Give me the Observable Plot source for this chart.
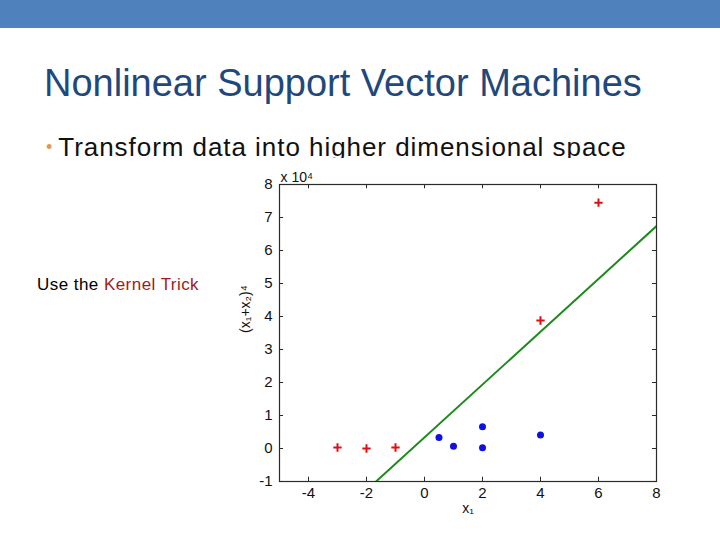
<!DOCTYPE html>
<html>
<head>
<meta charset="utf-8">
<script src="https://cdn.jsdelivr.net/npm/d3@7"></script>
<script src="https://cdn.jsdelivr.net/npm/@observablehq/plot@0.6"></script>
<style>
  html, body { margin: 0; padding: 0; background: #fff; }
  #page { position: relative; width: 720px; height: 540px; overflow: hidden; font-family: "Liberation Sans", Arial, sans-serif; }
  #bar { position: absolute; left: 0; top: 0; width: 720px; height: 28px; background: #4f81bd; }
  #title { position: absolute; left: 44px; top: 64px; font-size: 38px; line-height: 38px; color: #1f497d; white-space: nowrap; }
  #bullet { position: absolute; left: 46px; top: 134px; font-size: 26px; line-height: 26px; color: #111; white-space: nowrap; letter-spacing: 0.95px; }
  #bullet .dot { color: #e8964f; font-size: 18px; position: relative; top: -3px; margin-right: 6px; letter-spacing: 0; }
  #kernel { position: absolute; left: 37px; top: 276px; font-size: 17px; line-height: 17px; color: #000; white-space: nowrap; letter-spacing: 0.45px; }
  #kernel span { color: #a01a1a; }
  #chart { position: absolute; left: 220px; top: 158px; background: #fff; }
  #chart svg { background: #fff; display: block; }
</style>
</head>
<body>
<div id="page">
  <div id="bar"></div>
  <div id="title">Nonlinear Support Vector Machines</div>
  <div id="bullet"><span class="dot">•</span>Transform data into higher dimensional space</div>
  <div id="kernel">Use the <span>Kernel Trick</span></div>
  <div id="chart"></div>
</div>
<script>
// Data (y values in units of 10^4)
const redX = [-3, -2, -1, 4, 6];
const redY = [0.03, 0.0, 0.03, 3.88, 7.45];
const blueX = [0.5, 1, 2, 2, 4];
const blueY = [0.33, 0.07, 0.66, 0.02, 0.41];
const lineX = [-1.67, 8];
const lineY = [-1, 6.74];
const xTicks = [-4, -2, 0, 2, 4, 6, 8];
const yTicks = [-1, 0, 1, 2, 3, 4, 5, 6, 7, 8];
const xLabel = "x₁";
const yLabel = "(x₁+x₂)⁴";
const expLabel = "x 10⁴";

const red = redX.map((x, i) => ({x, y: redY[i]}));
const blue = blueX.map((x, i) => ({x, y: blueY[i]}));
const line = lineX.map((x, i) => ({x, y: lineY[i]}));

const xmin = -5, xmax = 8, ymin = -1, ymax = 8;
const tx = 0.14, ty = 0.13;
const axisColor = "#2a2a2a";
const fmt = d => String(d);

const chart = Plot.plot({
  width: 460,
  height: 370,
  marginLeft: 59,
  marginTop: 26,
  marginRight: 24,
  marginBottom: 47,
  style: {fontFamily: "'Liberation Sans', Arial, sans-serif", fontSize: "15px", color: "#111", background: "#fff"},
  x: {domain: [xmin, xmax]},
  y: {domain: [ymin, ymax]},
  marks: [
    Plot.frame({stroke: axisColor, strokeWidth: 1.2}),
    // inward ticks bottom/top
    Plot.ruleX(xTicks, {x: d => d, y1: ymin, y2: ymin + ty, stroke: axisColor}),
    Plot.ruleX(xTicks, {x: d => d, y1: ymax - ty, y2: ymax, stroke: axisColor}),
    // inward ticks left/right
    Plot.ruleY(yTicks, {y: d => d, x1: xmin, x2: xmin + tx, stroke: axisColor}),
    Plot.ruleY(yTicks, {y: d => d, x1: xmax - tx, x2: xmax, stroke: axisColor}),
    Plot.axisX(xTicks, {tickSize: 0, tickPadding: 6, fontSize: 15, label: null, tickFormat: fmt}),
    Plot.axisY(yTicks, {tickSize: 0, tickPadding: 7, fontSize: 15, label: null, tickFormat: fmt}),
    Plot.line(line, {x: "x", y: "y", stroke: "#1e8a1e", strokeWidth: 2, clip: true}),
    Plot.dot(red, {x: "x", y: "y", symbol: "plus", stroke: "#e01010", strokeWidth: 2, r: 2.8}),
    Plot.dot(blue, {x: "x", y: "y", fill: "#1010e0", stroke: "none", r: 3.5}),
    Plot.text([yLabel], {frameAnchor: "left", rotate: -90, dx: -34, fontSize: 14}),
    Plot.text([xLabel], {frameAnchor: "bottom", dy: 31, fontSize: 14}),
    Plot.text([expLabel], {frameAnchor: "top-left", textAnchor: "start", dy: -12, dx: 1, fontSize: 14})
  ]
});
document.getElementById("chart").appendChild(chart);
</script>
</body>
</html>
